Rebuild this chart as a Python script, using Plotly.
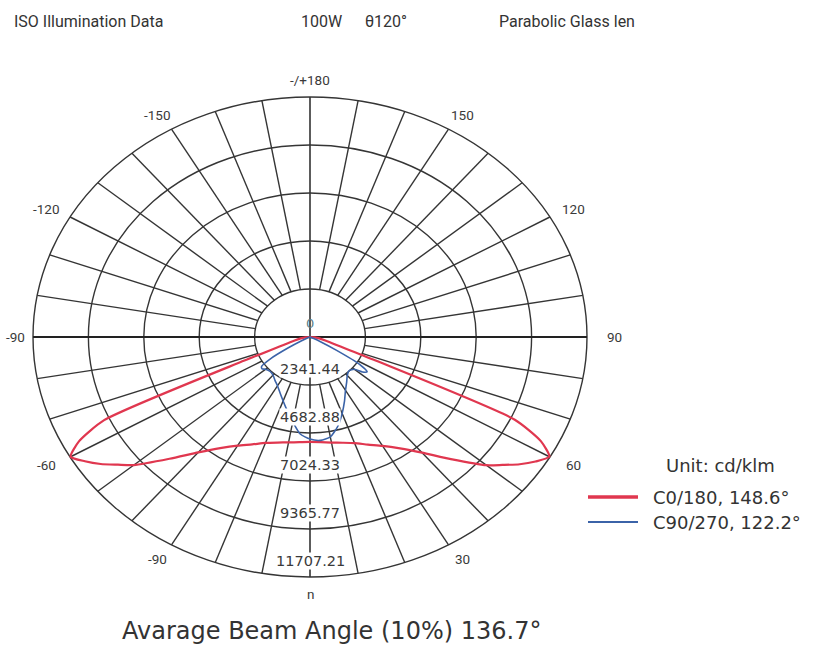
import numpy as np
import plotly.graph_objects as go

# ---------------- data ----------------
gamma = [0, 5, 10, 15, 20, 25, 30, 35, 40, 45, 50, 52.5, 55, 57.5, 60, 62.5, 65, 67.5, 70, 75, 80, 85, 90]

# C0/180 (red) intensity, cd/klm
red_c0 = [5120, 5150, 5230, 5340, 5510, 5790, 6130, 6630, 7360, 8420, 9730, 10250, 10820, 11300, 11680, 11000, 9550, 3000, 1400, 700, 400, 200, 0]
red_c180 = [5120, 5150, 5220, 5330, 5500, 5780, 6120, 6620, 7350, 8400, 9720, 10230, 10800, 11280, 11680, 11000, 9600, 3000, 1400, 700, 400, 200, 0]

# C90/270 (blue) intensity, cd/klm
blue_c90 = [4980, 5060, 4950, 4520, 3970, 3450, 3000, 2700, 2450, 2330, 2450, 2800, 2950, 2500, 1300, 500, 150, 50, 0, 0, 0, 0, 0]
blue_c270 = [4980, 4750, 4200, 3720, 3320, 3000, 2750, 2580, 2430, 2380, 2450, 2550, 2500, 2000, 1100, 400, 120, 40, 0, 0, 0, 0, 0]

ring_values = [2341.44, 4682.88, 7024.33, 9365.77, 11707.21]
ring_labels = ["2341.44", "4682.88", "7024.33", "9365.77", "11707.21"]

angle_ticks = [180, -150, 150, -120, 120, -90, 90, -60, 60, -30, 30, 0]
angle_labels = ["-/+180", "-150", "150", "-120", "120", "-90", "90", "-60", "60", "-90", "30", "n"]

series_names = ["C0/180, 148.6°", "C90/270, 122.2°"]

# ---------------- geometry (figure layout) ----------------
W, H = 817, 647
CX, CY = 310, 337          # pixel centre of the diagram
RX, RY = 277, 240          # pixel radii of the outer ring
RMAX = ring_values[-1]

x_range = [(0 - CX) / RX * RMAX, (W - CX) / RX * RMAX]
y_range = [-(H - CY) / RY * RMAX, CY / RY * RMAX]
UNITS_PER_PX_X = RMAX / RX


def to_xy(theta_deg, r):
    t = np.radians(np.asarray(theta_deg, dtype=float))
    r = np.asarray(r, dtype=float)
    return r * np.sin(t), -r * np.cos(t)


def closed_curve(right, left):
    g = np.asarray(gamma, dtype=float)
    th = np.concatenate([-g[::-1], g[1:]])
    rr = np.concatenate([np.asarray(left)[::-1], np.asarray(right)[1:]])
    return to_xy(th, rr)


fig = go.Figure()

GRID = "#353535"
shapes = []
for rv in ring_values:
    shapes.append(dict(type="circle", xref="x", yref="y", x0=-rv, x1=rv, y0=-rv, y1=rv,
                       line=dict(color=GRID, width=1.4), layer="below"))
for a in range(0, 360, 10):
    if a % 90 == 0:
        continue
    x0, y0 = to_xy(a, ring_values[0])
    x1, y1 = to_xy(a, RMAX)
    shapes.append(dict(type="line", xref="x", yref="y", x0=float(x0), y0=float(y0),
                       x1=float(x1), y1=float(y1), line=dict(color=GRID, width=1.4), layer="below"))
# main axes
shapes.append(dict(type="line", xref="x", yref="y", x0=-RMAX, x1=RMAX, y0=0, y1=0,
                   line=dict(color="#222222", width=2), layer="below"))
shapes.append(dict(type="line", xref="x", yref="y", x0=0, x1=0, y0=-RMAX, y1=RMAX,
                   line=dict(color="#333333", width=1.6), layer="below"))

# data curves
colors = ["#e0374f", "#3b63a8"]
widths = [2.2, 1.6]
for name, (right, left), col, wd in zip(series_names, [(red_c0, red_c180), (blue_c90, blue_c270)], colors, widths):
    x, y = closed_curve(right, left)
    fig.add_trace(go.Scatter(x=x, y=y, mode="lines", name=name,
                             line=dict(color=col, width=wd, shape="spline", smoothing=0.6),
                             showlegend=False, hoverinfo="skip"))

annotations = []
TXT = "#3a3a3a"
NARROW = "Roboto, sans-serif"
# angular labels (placed just outside the outer ring, kept inside the page)
x_min_label = x_range[0] + 15 * UNITS_PER_PX_X
for a, lab in zip(angle_ticks, angle_labels):
    lx, ly = to_xy(a, RMAX)
    lx = max(float(lx) * 1.10, x_min_label)
    annotations.append(dict(x=lx, y=float(ly) * 1.07, xref="x", yref="y", text=lab,
                            showarrow=False, font=dict(family=NARROW, size=13.5, color=TXT),
                            xanchor="center", yanchor="middle"))
# ring labels
step = ring_values[0]
for rv, lab in zip(ring_values, ring_labels):
    annotations.append(dict(x=0, y=-(rv - 0.33 * step), xref="x", yref="y", text=lab, showarrow=False,
                            font=dict(family="DejaVu Sans, sans-serif", size=14.5, color=TXT),
                            bgcolor="white", borderpad=0, xanchor="center", yanchor="middle"))
# centre 0
annotations.append(dict(x=0, y=0.28 * step, xref="x", yref="y", text="0", showarrow=False,
                        font=dict(family="DejaVu Sans, sans-serif", size=13, color="#5b7f88"),
                        xanchor="center", yanchor="middle"))


def px(xp, yp):
    return xp / W, 1 - yp / H


# header texts
for text, xp in [("ISO Illumination Data", 12), ("100W", 299), ("θ120°", 363), ("Parabolic Glass len", 497)]:
    xx, yy = px(xp, 22)
    annotations.append(dict(x=xx, y=yy, xref="paper", yref="paper", text=text, showarrow=False,
                            font=dict(family=NARROW, size=16, color="#333333"), xanchor="left", yanchor="middle"))

# legend (unit + items)
LEG_FONT = "DejaVu Sans, sans-serif"
xx, yy = px(664, 465)
annotations.append(dict(x=xx, y=yy, xref="paper", yref="paper", text="Unit: cd/klm", showarrow=False,
                        font=dict(family=LEG_FONT, size=18, color="#333333"), xanchor="left", yanchor="middle"))
for name, col, ypx, lw in zip(series_names, colors, [497, 522], [3.5, 1.8]):
    x0, y0 = px(588, ypx)
    x1, _ = px(638, ypx)
    shapes.append(dict(type="line", xref="paper", yref="paper", x0=x0, x1=x1, y0=y0, y1=y0,
                       line=dict(color=col, width=lw)))
    tx, ty = px(651, ypx)
    annotations.append(dict(x=tx, y=ty, xref="paper", yref="paper", text=name, showarrow=False,
                            font=dict(family=LEG_FONT, size=18, color="#333333"),
                            xanchor="left", yanchor="middle"))

# bottom caption
xx, yy = px(331, 631)
annotations.append(dict(x=xx, y=yy, xref="paper", yref="paper", text="Avarage Beam Angle (10%) 136.7°",
                        showarrow=False, font=dict(family="DejaVu Sans, sans-serif", size=24, color="#333333"),
                        xanchor="center", yanchor="middle"))

fig.update_layout(
    width=W, height=H,
    margin=dict(l=0, r=0, t=0, b=0),
    paper_bgcolor="white", plot_bgcolor="white",
    xaxis=dict(range=x_range, visible=False, fixedrange=True),
    yaxis=dict(range=y_range, visible=False, fixedrange=True),
    shapes=shapes, annotations=annotations, showlegend=False,
)

fig.write_html("out.html", config={"displayModeBar": False},
               post_script="document.body.style.margin='0px';")
